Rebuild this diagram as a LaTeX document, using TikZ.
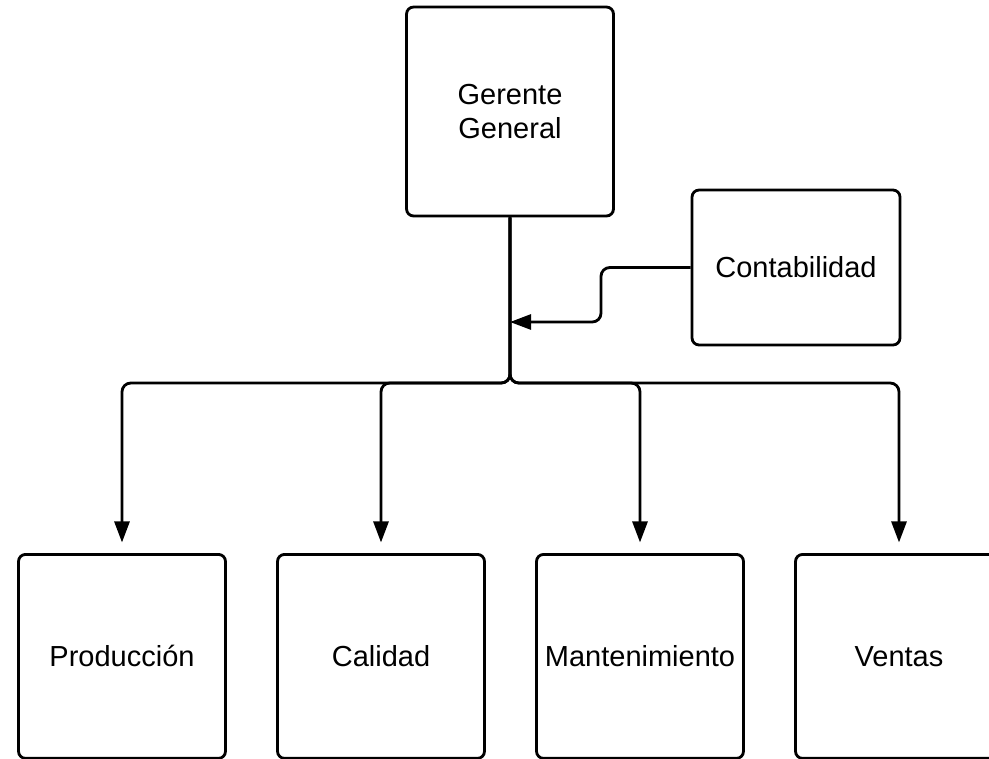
\documentclass[tikz,border=0pt]{standalone}
\usepackage{fontspec}
\setmainfont{Liberation Sans}
\usetikzlibrary{arrows.meta}

\tikzset{
	caja/.style={draw, line width=1.6pt, rounded corners=4pt, align=center,
		minimum width=4.14cm, minimum height=4.08cm, inner sep=0pt,
		font=\fontsize{16.5}{19.5}\selectfont},
	flecha/.style={line width=1.6pt, rounded corners=5pt,
		-{Triangle[length=0.42cm,width=0.3cm]}}
}

\begin{document}
\begin{tikzpicture}[x=0.02cm, y=-0.02cm]
			\useasboundingbox (0,0) rectangle (989,758);
			\clip (0,0) rectangle (989,758);
			% cajas
			\node[caja, minimum height=4.18cm] (gg) at (510,111.5) {Gerente\\General};
			\node[caja, minimum width=4.16cm, minimum height=3.1cm] (cont) at (796,267.5) {Contabilidad};
			\node[caja, anchor=north] (prod) at (122,553) {Producción};
			\node[caja, anchor=north] (cal) at (381,553) {Calidad};
			\node[caja, anchor=north] (mant) at (640,553) {Mantenimiento};
			\node[caja, anchor=north] (ven) at (899,553) {Ventas};
			% conectores
			\coordinate (bus) at (510,383);
			\coordinate (quiebre) at (601,322);
			\draw[flecha, shorten >=6] (gg.south) -- (bus) -| (prod.north);
			\draw[flecha, shorten >=6] (gg.south) -- (bus) -| (cal.north);
			\draw[flecha, shorten >=6] (gg.south) -- (bus) -| (mant.north);
			\draw[flecha, shorten >=6] (gg.south) -- (bus) -| (ven.north);
			\draw[flecha] (cont.west) -| (quiebre) -- (quiebre -| bus);
		\end{tikzpicture}
\end{document}
